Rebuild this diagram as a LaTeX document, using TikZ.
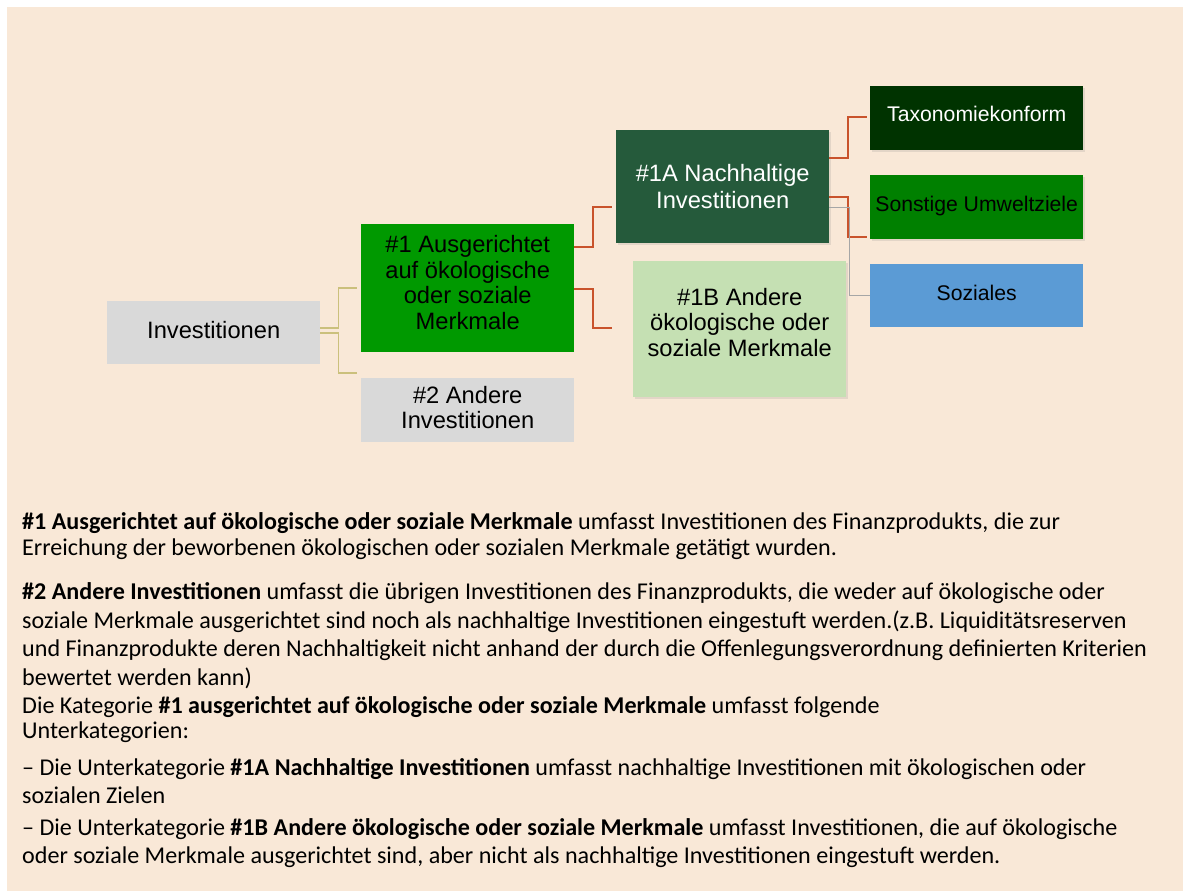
\documentclass[tikz,border=0pt]{standalone}
\usepackage{fontspec}
\setmainfont{Carlito}
\newfontfamily\boxfont{Liberation Sans}
\usetikzlibrary{calc,shadows}
\definecolor{bgcol}{HTML}{F9E8D7}
\definecolor{graybox}{HTML}{D9D9D9}
\definecolor{greenone}{HTML}{009900}
\definecolor{darkgreen}{HTML}{255A3B}
\definecolor{lightgreen}{HTML}{C5E0B3}
\definecolor{taxcol}{HTML}{003300}
\definecolor{soncol}{HTML}{008000}
\definecolor{sozcol}{HTML}{5B9BD5}
\definecolor{redline}{HTML}{C9532C}
\definecolor{yelline}{HTML}{CBC07C}
\definecolor{grayline}{HTML}{A6A6A6}
\tikzset{
  box/.style={rectangle, inner sep=0pt, anchor=north west, align=center,
    minimum width=213pt, font=\boxfont\fontsize{23.7}{25.5}\selectfont},
  smallbox/.style={box, font=\boxfont\fontsize{21.2}{24}\selectfont},
  shade/.style={drop shadow={shadow xshift=1.5pt, shadow yshift=-2pt, opacity=0.18}},
  yline/.style={draw=yelline, line width=1.6pt},
  rline/.style={draw=redline, line width=2pt},
  gline/.style={draw=grayline, line width=1.4pt},
  bodyline/.style={anchor=base west, inner sep=0pt, font=\fontsize{24.1}{28}\selectfont},
}
\begin{document}
\begin{tikzpicture}[x=1pt,y=-1pt]
\useasboundingbox (0,0) rectangle (1190,891);
\fill[bgcol] (7,7) rectangle (1183,891);

% nodes
\node[box, fill=graybox, minimum height=63pt] (inv) at (107,301) {Investitionen\\[-19.5pt]};
\node[box, fill=greenone, minimum height=128pt] (a1) at (361,224) {\#1 Ausgerichtet\\auf ökologische\\oder soziale\\Merkmale\\[-13.5pt]};
\node[box, fill=graybox, minimum height=64pt] (a2) at (361,378) {\#2 Andere\\Investitionen\\[-20pt]};
\node[box, shade, fill=darkgreen, text=white, minimum height=113pt, font=\boxfont\fontsize{23.7}{26.7}\selectfont] (a1a) at (616,130) {\#1A Nachhaltige\\Investitionen};
\node[box, shade, fill=lightgreen, minimum height=136pt] (a1b) at (633,261) {\#1B Andere\\ökologische oder\\soziale Merkmale\\[-11.5pt]};
\node[smallbox, shade, fill=taxcol, text=white, minimum height=64pt] (tax) at (870,86) {Taxonomiekonform\\[-16pt]};
\node[smallbox, shade, fill=soncol, minimum height=64pt] (son) at (870,175) {Sonstige Umweltziele\\[-17pt]};
\node[smallbox, fill=sozcol, minimum height=63pt] (soz) at (870,264) {Soziales\\[-19pt]};

% connectors
\draw[yline] ($(inv.east)+(0,-4.5)$) -- ++(18,0) |- ($(a1.west)+(-4,0)$);
\draw[yline] (inv.east) -- ++(18,0) |- ($(a2.north west)+(-4,-5)$);
\draw[rline] ($(a1.east)+(0,-41)$) -- ++(19,0) |- ($(a1a.west)+(-4,20.5)$);
\draw[rline] ($(a1.east)+(0,1)$) -- ++(19,0) |- ($(a1b.west)+(-21,-1)$);
\draw[rline] ($(a1a.east)+(0,-28.5)$) -- ++(19,0) |- ($(tax.west)+(-3,-1)$);
\draw[rline] ($(a1a.east)+(0,10.5)$) -- ++(19,0) |- ($(son.west)+(-3,30)$);
\draw[gline] ($(a1a.east)+(0,20.5)$) -- ++(20,0) |- (soz.west);

% explanatory text
\node[bodyline] (t1) at (22,529) {\textbf{\#1 Ausgerichtet auf ökologische oder soziale Merkmale} umfasst Investitionen des Finanzprodukts, die zur};
\node[bodyline] (t2) at (22,555) {Erreichung der beworbenen ökologischen oder sozialen Merkmale getätigt wurden.};
\node[bodyline] (t3) at (22,599) {\textbf{\#2 Andere Investitionen} umfasst die übrigen Investitionen des Finanzprodukts, die weder auf ökologische oder};
\node[bodyline] (t4) at (22,628) {soziale Merkmale ausgerichtet sind noch als nachhaltige Investitionen eingestuft werden.(z.B. Liquiditätsreserven};
\node[bodyline] (t5) at (22,656) {und Finanzprodukte deren Nachhaltigkeit nicht anhand der durch die Offenlegungsverordnung definierten Kriterien};
\node[bodyline] (t6) at (22,685) {bewertet werden kann)};
\node[bodyline] (t7) at (22,713) {Die Kategorie \textbf{\#1 ausgerichtet auf ökologische oder soziale Merkmale} umfasst folgende};
\node[bodyline] (t8) at (22,738) {Unterkategorien:};
\node[bodyline] (t9) at (22,775) {– Die Unterkategorie \textbf{\#1A Nachhaltige Investitionen} umfasst nachhaltige Investitionen mit ökologischen oder};
\node[bodyline] (t10) at (22,803) {sozialen Zielen};
\node[bodyline] (t11) at (22,835) {– Die Unterkategorie \textbf{\#1B Andere ökologische oder soziale Merkmale} umfasst Investitionen, die auf ökologische};
\node[bodyline] (t12) at (22,863) {oder soziale Merkmale ausgerichtet sind, aber nicht als nachhaltige Investitionen eingestuft werden.};
\end{tikzpicture}
\end{document}
